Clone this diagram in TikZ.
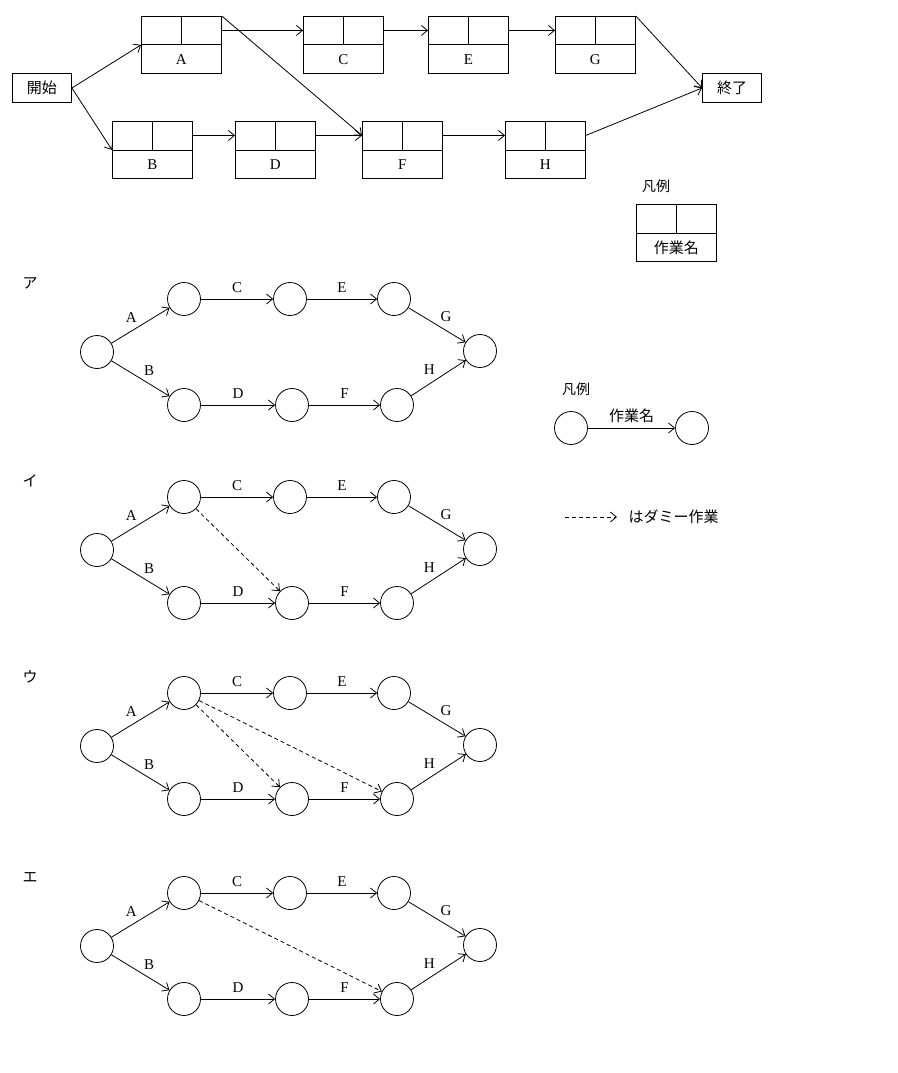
\documentclass[tikz,border=0pt]{standalone}
\usepackage{fontspec}
\setmainfont{Liberation Serif}
\newfontfamily\jp{Noto Sans CJK JP}
\usetikzlibrary{positioning,calc,arrows.meta}
\tikzset{
  >={Straight Barb[length=6pt,width=10pt]},
  ev/.style={circle,draw,minimum width=32pt,minimum height=33pt,inner sep=0pt},
  task/.style={draw,minimum width=80pt,minimum height=57pt,inner sep=0pt},
  term/.style={draw,minimum width=59pt,minimum height=29pt,inner sep=0pt,font=\jp\fontsize{15}{18}\selectfont},
  lbl/.style={font=\fontsize{15}{18}\selectfont},
  dummy/.style={->,dash pattern=on 4pt off 3pt}
}
\newcommand{\taskbox}[4]{% name, x, y(top), label
  \node[task,anchor=north west] (#1) at (#2,#3) {};
  \draw (#1.west) -- (#1.east);
  \draw (#1.north) -- (#1.center);
  \node[lbl] at ($(#1.south)+(0,-14)$) {#4};
}
\begin{document}
\begin{tikzpicture}[x=1pt,y=-1pt,line width=0.8pt]
\useasboundingbox (0,0) rectangle (897,1073);

% top network
\node[term] (start) at (42,88) {開始};
\node[term] (goal) at (732,88) {終了};
\taskbox{A}{141}{16}{A}
\taskbox{C}{303}{16}{C}
\taskbox{E}{428}{16}{E}
\taskbox{G}{555}{16}{G}
\taskbox{B}{112}{121}{B}
\taskbox{D}{235}{121}{D}
\taskbox{F}{362}{121}{F}
\taskbox{H}{505}{121}{H}

\draw[->] (start.east) -- (A.west);
\draw[->] (start.east) -- (B.west);
\draw[->] ($(A.north east)!0.5!(A.east)$) -- ($(C.north west)!0.5!(C.west)$);
\draw[->] ($(C.north east)!0.5!(C.east)$) -- ($(E.north west)!0.5!(E.west)$);
\draw[->] ($(E.north east)!0.5!(E.east)$) -- ($(G.north west)!0.5!(G.west)$);
\draw[->] ($(B.north east)!0.5!(B.east)$) -- ($(D.north west)!0.5!(D.west)$);
\draw[->] ($(D.north east)!0.5!(D.east)$) -- ($(F.north west)!0.5!(F.west)$);
\draw[->] ($(F.north east)!0.5!(F.east)$) -- ($(H.north west)!0.5!(H.west)$);
\draw[->] (A.north east) -- ($(F.north west)!0.5!(F.west)$);
\draw[->] (G.north east) -- (goal.west);
\draw[->] ($(H.north east)!0.5!(H.east)$) -- (goal.west);

% legend box
\node[font=\jp\fontsize{14}{16}\selectfont] (key1) at (656,186) {凡例};
\node[task,anchor=north west] (keybox) at (636,204) {};
\draw (keybox.west) -- (keybox.east);
\draw (keybox.north) -- (keybox.center);
\node[font=\jp\fontsize{15}{18}\selectfont] at ($(keybox.south)+(0,-14)$) {作業名};

% answer networks
\foreach \tag/\dy/\k in {ア/0/a,イ/198/i,ウ/394/u,エ/594/e}{
  \node[font=\jp\fontsize{15}{18}\selectfont] (tag\k) at (30,283+\dy) {\tag};
  \node[ev] (s\k) at (97,352+\dy) {};
  \node[ev] (t\k) at (184,299+\dy) {};
  \node[ev] (u\k) at (290,299+\dy) {};
  \node[ev] (v\k) at (394,299+\dy) {};
  \node[ev] (b\k) at (184,405+\dy) {};
  \node[ev] (c\k) at (292,405+\dy) {};
  \node[ev] (d\k) at (397,405+\dy) {};
  \node[ev] (z\k) at (480,351+\dy) {};
  \draw[->] (s\k) -- node[lbl,above left=-1pt and 0pt] {A} (t\k);
  \draw[->] (s\k) -- node[lbl,above right=-1pt and 0pt] {B} (b\k);
  \draw[->] (t\k) -- node[lbl,above=3pt] {C} (u\k);
  \draw[->] (u\k) -- node[lbl,above=3pt] {E} (v\k);
  \draw[->] (v\k) -- node[lbl,above right=0pt and 0pt] {G} (z\k);
  \draw[->] (b\k) -- node[lbl,above=3pt] {D} (c\k);
  \draw[->] (c\k) -- node[lbl,above=3pt] {F} (d\k);
  \draw[->] (d\k) -- node[lbl,above left=0pt and 0pt] {H} (z\k);
}
\draw[dummy] (ti) -- (ci);
\draw[dummy] (tu) -- (cu);
\draw[dummy] (tu) -- (du);
\draw[dummy] (te) -- (de);

% legend circles
\node[font=\jp\fontsize{14}{16}\selectfont] (key2) at (576,389) {凡例};
\node[ev] (k1) at (571,428) {};
\node[ev] (k2) at (692,428) {};
\draw[->] (k1) -- node[above=2pt,font=\jp\fontsize{15}{18}\selectfont] {作業名} (k2);
\coordinate (d1) at (565,517);
\coordinate (d2) at (617,517);
\draw[dummy] (d1) -- (d2);
\node[font=\jp\fontsize{15}{18}\selectfont,anchor=west] (dtxt) at (625,517) {はダミー作業};
\end{tikzpicture}
\end{document}
